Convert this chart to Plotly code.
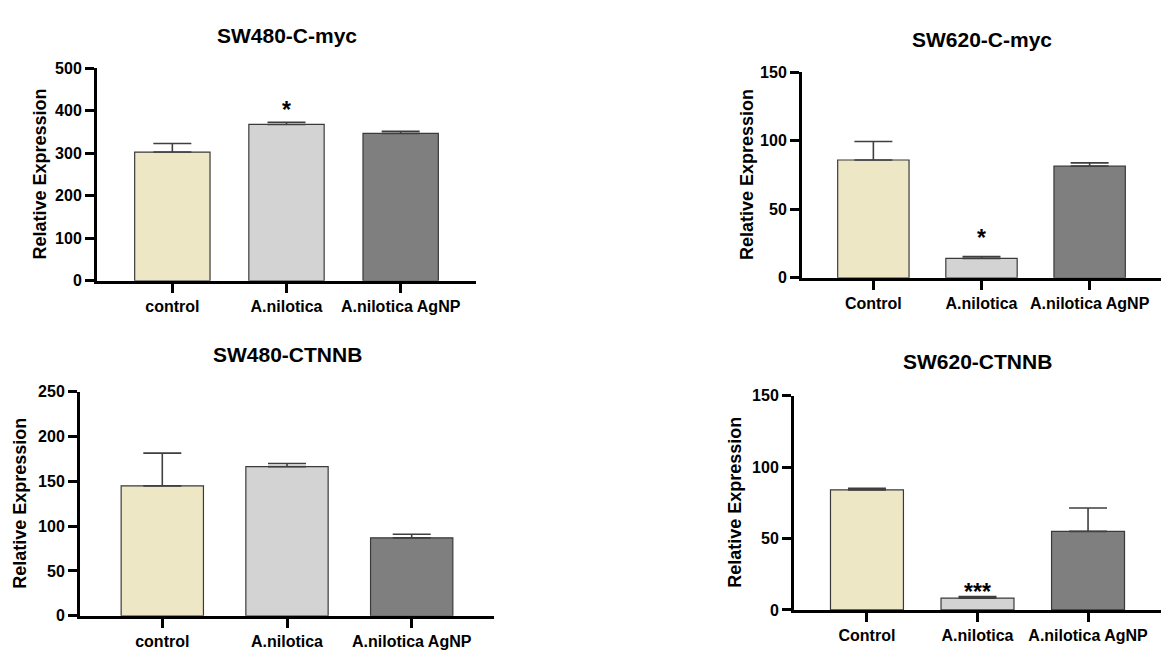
import plotly.graph_objects as go

# ---------------- data ----------------
cats_480 = ["control", "A.nilotica", "A.nilotica AgNP"]
cats_620 = ["Control", "A.nilotica", "A.nilotica AgNP"]

sw480_myc = [303, 368, 347]
sw480_myc_err = [20, 5, 5]
sw620_myc = [86, 14.2, 81.5]
sw620_myc_err = [13.5, 1.4, 2.4]
sw480_ctnnb = [145, 166.5, 87]
sw480_ctnnb_err = [36.5, 3.5, 4]
sw620_ctnnb = [84, 8.3, 55]
sw620_ctnnb_err = [1.1, 1.1, 16.4]

titles = ["SW480-C-myc", "SW620-C-myc", "SW480-CTNNB", "SW620-CTNNB"]
ymax = [500, 150, 250, 150]
ydtick = [100, 50, 50, 50]
stars = [["", "*", ""], ["", "*", ""], ["", "", ""], ["", "***", ""]]

# ---------------- style / layout ----------------
W, H = 1161, 655
colors = ["#EEE7C6", "#D3D3D3", "#7F7F7F"]
FONT = "Liberation Sans, Arial, sans-serif"

# panel pixel boxes: (left, right, top, bottom)
boxes = [(97, 476, 62, 280), (802, 1161, 66, 277), (80, 494, 394, 624), (794, 1161, 398, 618)]
title_y = [28, 32, 356, 363]
ytitle_x = [40, 747, 20, 735]
star_shift = [-3, 3, -6, -10]

panels = [
    (cats_480, sw480_myc, sw480_myc_err),
    (cats_620, sw620_myc, sw620_myc_err),
    (cats_480, sw480_ctnnb, sw480_ctnnb_err),
    (cats_620, sw620_ctnnb, sw620_ctnnb_err),
]

fig = go.Figure()
annotations = []
layout_axes = {}

for i, (cats, vals, errs) in enumerate(panels):
    n = "" if i == 0 else str(i + 1)
    xa, ya = "x" + n, "y" + n
    fig.add_trace(go.Bar(
        x=cats, y=vals, xaxis=xa, yaxis=ya, width=0.66,
        marker=dict(color=colors, line=dict(color="#3a3a3a", width=1.2)),
        error_y=dict(type="data", array=errs, arrayminus=[0] * len(errs), symmetric=False,
                     color="#3f3f3f", thickness=1.6, width=19),
        showlegend=False,
    ))
    l, r, t, b = boxes[i]
    axis_common = dict(showline=True, linecolor="black", linewidth=3, ticks="outside",
                       ticklen=9, tickwidth=3, tickcolor="black", showgrid=False, zeroline=False,
                       tickfont=dict(family=FONT, size=16, color="black", weight="bold"))
    layout_axes["xaxis" + n] = dict(axis_common, domain=[l / W, r / W], anchor=ya,
                                    type="category", range=[-0.66, 2.66])
    layout_axes["yaxis" + n] = dict(axis_common, domain=[1 - b / H, 1 - t / H], anchor=xa,
                                    range=[0, ymax[i]], dtick=ydtick[i])
    # panel title
    annotations.append(dict(text=titles[i], xref="paper", yref="paper",
                            x=(l + r) / 2 / W, y=1 - title_y[i] / H, showarrow=False,
                            xanchor="center", yanchor="middle",
                            font=dict(family=FONT, size=21, color="black", weight="bold")))
    # y-axis title
    annotations.append(dict(text="Relative Expression", xref="paper", yref="paper",
                            x=ytitle_x[i] / W, y=1 - (t + b) / 2 / H, showarrow=False,
                            textangle=-90, xanchor="center", yanchor="middle",
                            font=dict(family=FONT, size=18, color="black", weight="bold")))
    # significance stars
    for j, s in enumerate(stars[i]):
        if s:
            annotations.append(dict(text=s, xref=xa, yref=ya, x=cats[j], y=vals[j] + errs[j],
                                    showarrow=False, yanchor="bottom", yshift=star_shift[i],
                                    font=dict(family=FONT, size=23, color="black", weight="bold")))

fig.update_layout(
    width=W, height=H, margin=dict(l=0, r=0, t=0, b=0),
    paper_bgcolor="white", plot_bgcolor="white",
    annotations=annotations, bargap=0.34,
    **layout_axes,
)

fig.write_html("out.html")
